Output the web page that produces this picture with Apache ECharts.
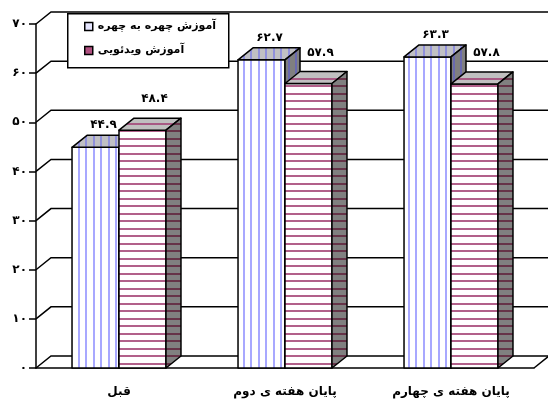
<!DOCTYPE html>
<html>
<head>
<meta charset="utf-8">
<script src="https://cdn.jsdelivr.net/npm/echarts@6/dist/echarts.min.js"></script>
<style>
html, body { margin: 0; padding: 0; background: #fff; }
#container { width: 548px; height: 404px; }
</style>
</head>
<body>
<div id="container"></div>
<script>
'use strict';
// values
var categories = ['قبل', 'پایان هفته ی دوم', 'پایان هفته ی چهارم'];
var seriesNames = ['آموزش چهره به چهره', 'آموزش ویدئویی'];
var faceToFace = [44.9, 62.7, 63.3];
var video = [48.4, 57.9, 57.8];
var yTicks = [0, 10, 20, 30, 40, 50, 60, 70];

var FONT = 'DejaVu Sans';
var DX = 15, DY = 12; // 3d depth
var BAR_RATIO = 0.283;

function fa(v) {
    return String(v).replace(/\d/g, function (d) { return '۰۱۲۳۴۵۶۷۸۹'[d]; });
}

function stripes(bg, fg, vertical) {
    var c = document.createElement('canvas');
    c.width = 15; c.height = 15;
    var ctx = c.getContext('2d');
    ctx.fillStyle = bg;
    ctx.fillRect(0, 0, 15, 15);
    ctx.fillStyle = fg;
    if (vertical) {
        ctx.fillRect(3, 0, 2, 15);
        ctx.fillRect(10, 0, 2, 15);
    } else {
        ctx.fillRect(0, 3, 15, 2);
        ctx.fillRect(0, 10, 15, 2);
    }
    return { image: c, repeat: 'repeat' };
}

var blueFaces = {
    front: stripes('#ffffff', '#a8a8ff', true),
    top: stripes('#c0c0c4', '#9090dc', true),
    side: stripes('#808080', '#6a6ab0', true)
};
var pinkFaces = {
    front: stripes('#ffffff', '#b2608a', false),
    top: stripes('#c0c0c0', '#a85a84', false),
    side: stripes('#808080', '#663348', false)
};

function barRenderer(left, faces, labelDx, labelDy) {
    return function (params, api) {
        var idx = api.value(0), val = api.value(1);
        var c = api.coord([idx, val]);
        var base = api.coord([idx, 0]);
        var w = api.size([1, 0])[0] * BAR_RATIO;
        var x0 = left ? c[0] - w : c[0];
        var x1 = x0 + w, yt = c[1], yb = base[1];
        var stroke = { stroke: '#000', lineWidth: 1.5, lineJoin: 'round' };
        return {
            type: 'group',
            children: [
                { type: 'rect', shape: { x: x0, y: yt, width: w, height: yb - yt },
                  style: Object.assign({ fill: faces.front }, stroke) },
                { type: 'polygon', shape: { points: [[x0, yt], [x0 + DX, yt - DY], [x1 + DX, yt - DY], [x1, yt]] },
                  style: Object.assign({ fill: faces.top }, stroke) },
                { type: 'polygon', shape: { points: [[x1, yt], [x1 + DX, yt - DY], [x1 + DX, yb - DY], [x1, yb]] },
                  style: Object.assign({ fill: faces.side }, stroke) },
                { type: 'text', x: (x0 + x1) / 2 + labelDx, y: yt - DY - labelDy,
                  style: { text: fa(val.toFixed(1)), font: 'bold 12px "' + FONT + '"', fill: '#000',
                           align: 'center', verticalAlign: 'middle' } }
            ]
        };
    };
}

function wallRenderer(params, api) {
    var cs = params.coordSys;
    var v = api.value(1);
    var y = api.coord([0, v])[1];
    var st = { stroke: '#000', lineWidth: 1.5, fill: null };
    var children = [
        { type: 'polyline', shape: { points: [[cs.x, y], [cs.x + DX, y - DY], [cs.x + cs.width + DX, y - DY]] }, style: st }
    ];
    if (v === 0) {
        children.push({ type: 'line', shape: { x1: cs.x + cs.width, y1: y, x2: cs.x + cs.width + DX, y2: y - DY }, style: st });
    }
    return { type: 'group', children: children };
}

var myChart = echarts.init(document.getElementById('container'), null, { renderer: 'canvas' });

var option = {
    backgroundColor: '#ffffff',
    animation: false,
    textStyle: { fontFamily: FONT },
    grid: { left: 36, right: 14, top: 24, bottom: 36, containLabel: false },
    graphic: [{
        type: 'rect', left: 67, top: 13, z: 5,
        shape: { width: 161, height: 54 },
        style: { fill: '#fff', stroke: '#000', lineWidth: 1.5 }
    }],
    legend: {
        left: 82, top: 19, orient: 'vertical', z: 6,
        itemWidth: 8, itemHeight: 8, itemGap: 13, padding: [2, 2, 2, 2],
        icon: 'rect',
        textStyle: { fontFamily: FONT, fontWeight: 'bold', fontSize: 11, color: '#000' },
        data: [
            { name: seriesNames[0], itemStyle: { color: '#e6e6ff', borderColor: '#000', borderWidth: 1.5 } },
            { name: seriesNames[1], itemStyle: { color: '#b05080', borderColor: '#000', borderWidth: 1.5 } }
        ]
    },
    xAxis: {
        type: 'category',
        data: categories,
        axisLine: { lineStyle: { color: '#000', width: 1.5 } },
        axisTick: { length: 5, lineStyle: { color: '#000', width: 1.5 } },
        axisLabel: { fontFamily: FONT, fontWeight: 'bold', fontSize: 12, color: '#000', margin: 18 },
        splitLine: { show: false }
    },
    yAxis: {
        type: 'value',
        min: 0, max: 70, interval: 10,
        axisLine: { show: true, lineStyle: { color: '#000', width: 1.5 } },
        axisTick: { show: true, length: 7, lineStyle: { color: '#000', width: 1.5 } },
        axisLabel: { fontFamily: FONT, fontWeight: 'bold', fontSize: 12, color: '#000', margin: 9,
                     formatter: function (v) { return fa(v); } },
        splitLine: { show: false }
    },
    series: [
        {
            type: 'custom', name: 'walls', z: 1, clip: false, silent: true,
            renderItem: wallRenderer,
            data: yTicks.map(function (v) { return [0, v]; })
        },
        {
            type: 'custom', name: seriesNames[0], z: 2, clip: false,
            renderItem: barRenderer(true, blueFaces, 8, 10),
            encode: { x: 0, y: 1 },
            data: faceToFace.map(function (v, i) { return [i, v]; })
        },
        {
            type: 'custom', name: seriesNames[1], z: 3, clip: false,
            renderItem: barRenderer(false, pinkFaces, 12, 19),
            encode: { x: 0, y: 1 },
            data: video.map(function (v, i) { return [i, v]; })
        }
    ]
};
myChart.setOption(option);
</script>
</body>
</html>
